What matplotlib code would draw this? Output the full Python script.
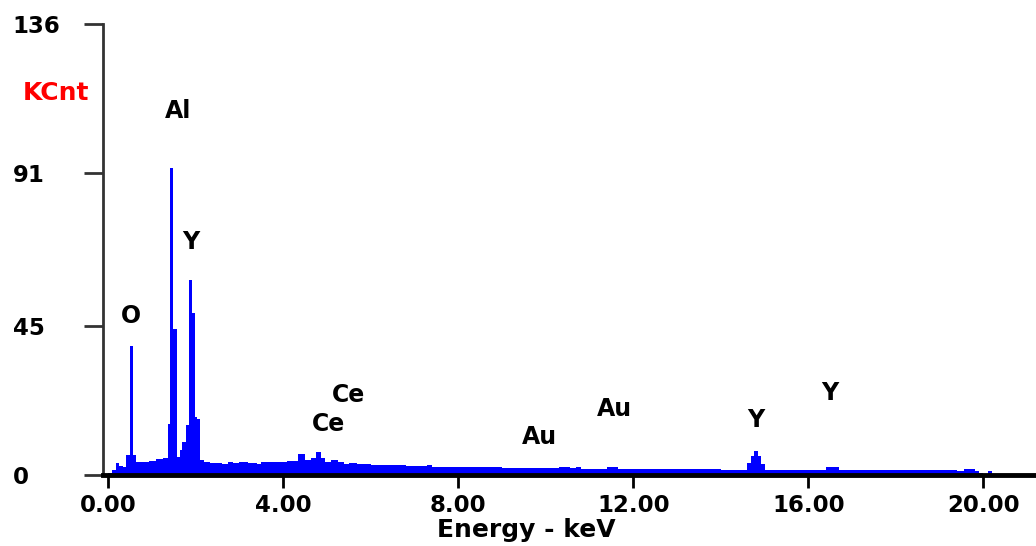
import matplotlib.pyplot as plt

# spectrum: left edge of each channel group (keV) and counts (x1000)
energy = [0.00, 0.10, 0.18, 0.26, 0.34, 0.41, 0.50, 0.57, 0.64, 0.80, 0.95, 1.10, 1.25,
          1.37, 1.42, 1.50, 1.59, 1.65, 1.70, 1.79, 1.85, 1.92, 1.98, 2.04, 2.10, 2.20, 2.33,
          2.60, 2.75, 2.85, 3.00, 3.20, 3.40, 3.50, 3.70, 3.90, 4.10, 4.35, 4.50, 4.65, 4.75,
          4.88, 4.95, 5.10, 5.25, 5.40, 5.50, 5.70, 6.00, 6.40, 6.80, 6.95, 7.30, 7.40, 8.00,
          9.00, 10.00, 10.30, 10.55, 10.70, 10.80, 11.40, 11.65, 12.50, 14.00, 14.60, 14.68,
          14.76, 14.86, 14.93, 15.02, 16.40, 16.70, 18.00, 19.40, 19.55, 19.80, 19.90, 20.00,
          20.10, 20.20, 21.50]
counts = [0.5, 1.5, 3.5, 2.8, 2.5, 6.0, 39.0, 6.0, 4.0, 3.8, 4.2, 4.8, 5.2,
          15.5, 92.6, 44.0, 5.5, 7.5, 10.0, 15.0, 58.8, 48.9, 17.5, 17.0, 4.5, 4.0, 3.6,
          3.4, 3.9, 3.5, 3.8, 3.7, 3.4, 3.8, 3.8, 4.0, 4.2, 6.2, 4.5, 5.0, 6.8,
          5.0, 4.0, 4.5, 4.0, 3.4, 3.6, 3.2, 3.1, 3.0, 2.8, 2.6, 2.9, 2.5, 2.3,
          2.1, 2.0, 2.5, 2.1, 2.4, 1.9, 2.5, 1.9, 1.8, 1.6, 3.5, 5.8,
          7.3, 5.8, 3.3, 1.6, 2.3, 1.6, 1.5, 1.2, 1.7, 1.2, 0.6, 0.3,
          1.1, 0.0, 0.0]

# element markers: label, energy, height
labels = ["O", "Al", "Y", "Ce", "Ce", "Au", "Au", "Y", "Y"]
label_x = [0.53, 1.60, 1.90, 5.05, 5.50, 9.85, 11.57, 14.81, 16.50]
label_y = [48.0, 109.8, 70.3, 15.4, 24.1, 11.5, 19.9, 16.6, 24.7]

xticks = [0, 4, 8, 12, 16, 20]
yticks = [0, 45, 91, 136]

fig = plt.figure(figsize=(10.36, 5.46), dpi=100)
ax = fig.add_axes([103/1036, (546-475)/546, (1036-103)/1036, (475-24)/546])

ax.fill_between(energy, counts, step='post', color='#0000ff', lw=0)

for lab, x, y in zip(labels, label_x, label_y):
    ax.text(x, y, lab, ha='center', va='center', fontsize=17, fontweight='bold')

ax.set_xlim(-0.11, 21.2)
ax.set_ylim(0, 136)

ax.set_xticks(xticks)
ax.set_xticklabels(["%.2f" % t for t in xticks], fontsize=16.5, fontweight='bold')
ax.set_yticks(yticks)
ax.set_yticklabels([str(t) for t in yticks], fontsize=16.5, fontweight='bold')
for t in ax.get_yticklabels():
    t.set_horizontalalignment('left')

ax.tick_params(axis='x', direction='out', length=9, width=2, color='black', pad=5)
ax.tick_params(axis='y', direction='out', length=14, width=2, color='#333333', pad=51)

ax.spines['top'].set_visible(False)
ax.spines['right'].set_visible(False)
ax.spines['left'].set_color('#333333')
ax.spines['left'].set_linewidth(2)
ax.spines['bottom'].set_color('black')
ax.spines['bottom'].set_linewidth(3.5)
ax.spines['bottom'].set_zorder(5)

ax.set_xlabel("Energy - keV", fontsize=18, fontweight='bold')
ax.xaxis.set_label_coords(0.454, -0.122)
ax.xaxis.label.set_va('center')
fig.text(56/1036, 1 - 93/546, "KCnt", color='red', fontsize=18, fontweight='bold',
         ha='center', va='center')

fig.savefig("out.png", dpi=100)
